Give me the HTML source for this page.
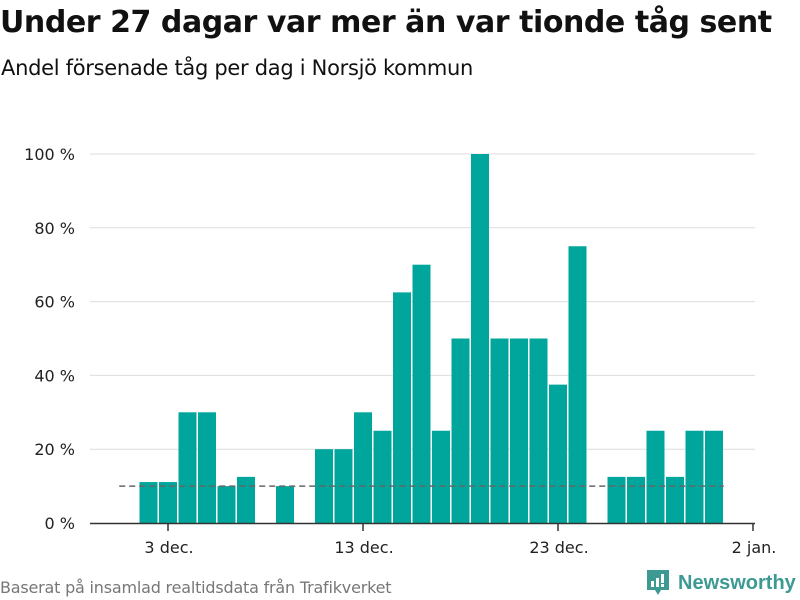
<!DOCTYPE html>
<html><head><meta charset="utf-8"><style>
body{margin:0;width:800px;height:600px;background:#fff;font-family:"Liberation Sans","DejaVu Sans",sans-serif;overflow:hidden;position:relative}
.t{position:absolute;left:0;top:5px;font-size:30px;font-weight:bold;color:#111;font-family:"DejaVu Sans","Liberation Sans",sans-serif;letter-spacing:-0.45px;white-space:nowrap}
.s{position:absolute;left:1px;top:56px;font-size:21px;color:#111;font-family:"DejaVu Sans","Liberation Sans",sans-serif;letter-spacing:-0.3px}
.src{position:absolute;left:0;top:578px;font-size:16px;color:#777;font-family:"DejaVu Sans","Liberation Sans",sans-serif;letter-spacing:-0.2px}
.logo{position:absolute;left:645px;top:568px;display:flex;align-items:center;color:#3d9a93;font-size:20px;font-weight:bold}
</style></head><body>
<div class="t">Under 27 dagar var mer än var tionde tåg sent</div>
<div class="s">Andel försenade tåg per dag i Norsjö kommun</div>
<svg id="c" width="800" height="600" style="position:absolute;left:0;top:0"></svg>
<div class="src">Baserat på insamlad realtidsdata från Trafikverket</div>
<div class="logo">
<svg width="26" height="30" viewBox="0 0 26 30"><path d="M2 2h22v20h-8l-3 5-3-5H2z" fill="#3d9a93"/><rect x="6" y="13" width="3" height="6" fill="#fff"/><rect x="11" y="10" width="3" height="9" fill="#fff"/><rect x="16" y="6" width="3" height="9" fill="#fff"/><rect x="16" y="16" width="3" height="3" fill="#fff"/></svg>
<span style="margin-left:7px">Newsworthy</span></div>
<script>
const days=[2,3,4,5,6,7,8,9,10,11,12,13,14,15,16,17,18,19,20,21,22,23,24,25,26,27,28,29,30,31];
const values=[11.1,11.1,30,30,10,12.5,null,10,null,20,20,30,25,62.5,70,25,50,100,50,50,50,37.5,75,null,12.5,12.5,25,12.5,25,25];
const yTicks=[0,20,40,60,80,100];
const xTickDays=[3,13,23,33];
const xTickLabels=["3 dec.","13 dec.","23 dec.","2 jan."];
const refValue=10;
const refStart=0.5, refEnd=31.5;
const NS="http://www.w3.org/2000/svg";
const svg=document.getElementById('c');
const x=d=>168+(d-3)*19.5;
const y=v=>523-v*3.69;
function mk(t,a){const e=document.createElementNS(NS,t);for(const k in a)e.setAttribute(k,a[k]);svg.appendChild(e);return e;}
yTicks.forEach(v=>{
 if(v>0){const g=mk('line',{x1:90,x2:755,y1:y(v),y2:y(v),stroke:'#ddd','stroke-width':1});
 
 }
 const t=mk('text',{x:75,y:y(v)+6,'text-anchor':'end','font-size':16,fill:'#222','font-family':'DejaVu Sans, Liberation Sans, sans-serif'});
 t.textContent=v+' %';
 
 
});
days.forEach((d,i)=>{
 const v=values[i]; if(v==null)return;
 const r=mk('rect',{x:x(d)-9,y:y(v),width:18,height:523-y(v),fill:'#00a69c'});
 
 
});
const ref=mk('line',{x1:x(refStart),x2:x(refEnd),y1:y(refValue),y2:y(refValue),stroke:'#666','stroke-width':1.5,'stroke-dasharray':'6,4'});


const ax=mk('line',{x1:90,x2:755,y1:523.5,y2:523.5,stroke:'#333','stroke-width':1.5});


xTickDays.forEach((d,i)=>{
 const tk=mk('line',{x1:x(d),x2:x(d),y1:523,y2:531,stroke:'#333','stroke-width':1.5});
 
 
 const t=mk('text',{x:x(d)+1,y:553,'text-anchor':'middle','font-size':16,fill:'#222','font-family':'DejaVu Sans, Liberation Sans, sans-serif'});
 t.textContent=xTickLabels[i];
 
 
});
</script>
</body></html>
